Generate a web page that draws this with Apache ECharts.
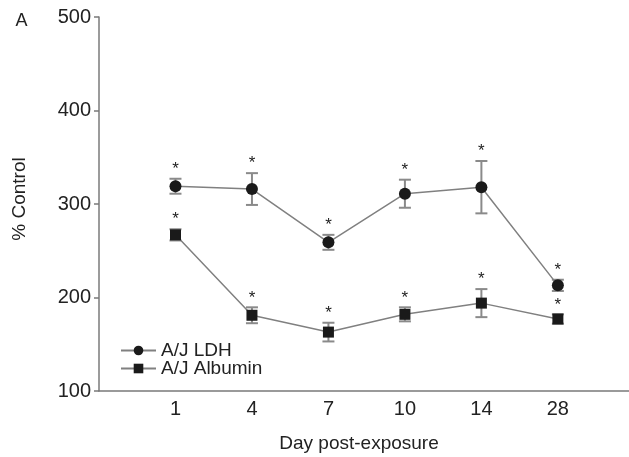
<!DOCTYPE html>
<html><head><meta charset="utf-8">
<script src="https://cdn.jsdelivr.net/npm/echarts@6/dist/echarts.min.js"></script>
<style>html,body{margin:0;padding:0;background:#fff}#c{width:629px;height:457px}</style>
</head><body><div id="c"></div>
<script>
var days = ['1', '4', '7', '10', '14', '28'];
var ldhMean = [319, 316, 259, 311, 318, 213];
var ldhErr = [8, 17, 8, 15, 28, 6];
var albMean = [267, 181, 163, 182, 194, 177];
var albErr = [6, 8.5, 10, 7.5, 15, 5];
var yTicks = [100, 200, 300, 400, 500];
var seriesNames = ['A/J LDH', 'A/J Albumin'];

var FONT = 'Liberation Sans, Arial, sans-serif';

function pts(mean) { return mean.map(function (v, i) { return [i + 1, v]; }); }
function errData(mean, err) { return mean.map(function (v, i) { return [i + 1, v - err[i], v + err[i]]; }); }

function errRender(params, api) {
  var x = api.value(0);
  var lo = api.coord([x, api.value(1)]);
  var hi = api.coord([x, api.value(2)]);
  var w = 6;
  var st = { stroke: '#8a8a8a', lineWidth: 2 };
  return {
    type: 'group',
    children: [
      { type: 'line', shape: { x1: lo[0], y1: lo[1], x2: hi[0], y2: hi[1] }, style: st },
      { type: 'line', shape: { x1: lo[0] - w, y1: lo[1], x2: lo[0] + w, y2: lo[1] }, style: st },
      { type: 'line', shape: { x1: hi[0] - w, y1: hi[1], x2: hi[0] + w, y2: hi[1] }, style: st },
      { type: 'text', x: hi[0], y: hi[1] - 1, style: { text: '*', font: '17px ' + FONT, fill: '#222', align: 'center', verticalAlign: 'bottom' } }
    ]
  };
}

function legendFor(name, top) {
  return {
    left: 120, top: top, itemWidth: 35, itemHeight: 12, padding: 0,
    textStyle: { fontSize: 19, color: '#222', fontFamily: FONT },
    data: [name]
  };
}

var chart = echarts.init(document.getElementById('c'), null, { renderer: 'canvas' });
chart.setOption({
  animation: false,
  grid: { left: 99, right: 0, top: 17, bottom: 66, containLabel: false },
  xAxis: {
    type: 'value', min: 0, max: 6.93, interval: 1,
    axisLine: { show: true, lineStyle: { color: '#7a7a7a', width: 1.5 } },
    axisTick: { show: false },
    splitLine: { show: false },
    axisLabel: {
      margin: 8, fontSize: 20, color: '#222', fontFamily: FONT, showMaxLabel: false,
      formatter: function (v) { return days[v - 1] || ''; }
    }
  },
  yAxis: {
    type: 'value', min: yTicks[0], max: yTicks[yTicks.length - 1], interval: 100,
    axisLine: { show: true, lineStyle: { color: '#7a7a7a', width: 1.5 } },
    axisTick: { show: true, length: 5, lineStyle: { color: '#7a7a7a', width: 1.5 } },
    splitLine: { show: false },
    axisLabel: { margin: 8, fontSize: 20, color: '#222', fontFamily: FONT }
  },
  legend: [legendFor(seriesNames[0], 341), legendFor(seriesNames[1], 359)],
  series: [
    { name: seriesNames[0], type: 'line', data: pts(ldhMean), symbol: 'circle', symbolSize: 12,
      itemStyle: { color: '#1a1a1a' }, lineStyle: { color: '#808080', width: 1.5 }, z: 3 },
    { name: seriesNames[1], type: 'line', data: pts(albMean), symbol: 'rect', symbolSize: 11,
      itemStyle: { color: '#1a1a1a' }, lineStyle: { color: '#808080', width: 1.5 }, z: 3 },
    { type: 'custom', data: errData(ldhMean, ldhErr), renderItem: errRender, z: 2 },
    { type: 'custom', data: errData(albMean, albErr), renderItem: errRender, z: 2 }
  ],
  graphic: [
    { type: 'text', x: 21.5, y: 21, style: { text: 'A', font: '18px ' + FONT, fill: '#222', align: 'center', verticalAlign: 'middle' } },
    { type: 'text', x: 20, y: 199, rotation: Math.PI / 2, style: { text: '% Control', font: '19px ' + FONT, fill: '#222', align: 'center', verticalAlign: 'middle' } },
    { type: 'text', x: 359, y: 444, style: { text: 'Day post-exposure', font: '19px ' + FONT, fill: '#222', align: 'center', verticalAlign: 'middle' } }
  ]
});
</script></body></html>
